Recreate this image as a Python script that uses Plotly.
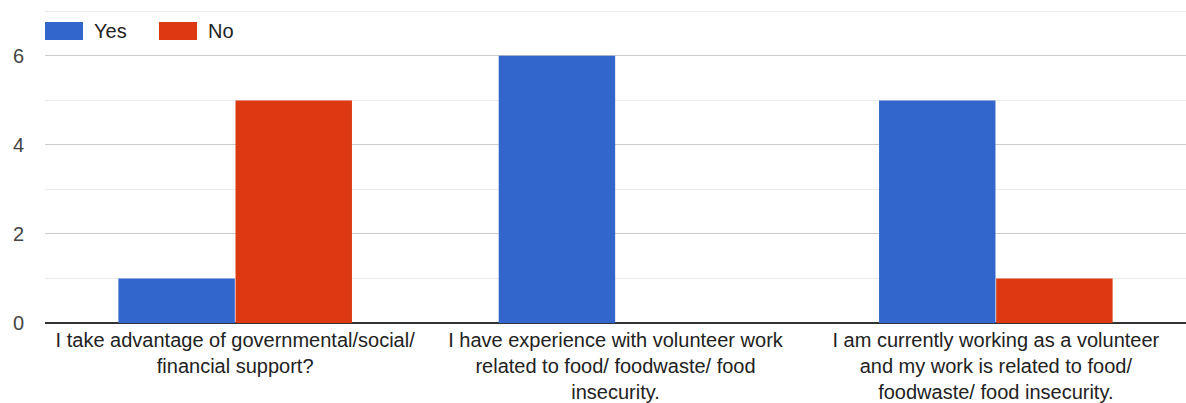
import plotly.graph_objects as go

categories = [
    "I take advantage of governmental/social/<br>financial support?",
    "I have experience with volunteer work<br>related to food/ foodwaste/ food<br>insecurity.",
    "I am currently working as a volunteer<br>and my work is related to food/<br>foodwaste/ food insecurity.",
]
yes_values = [1, 6, 5]
no_values = [5, 0, 1]
series_names = ["Yes", "No"]
colors = ["#3366cc", "#dc3912"]
y_ticks = [0, 2, 4, 6]

fig = go.Figure()
for name, vals, col in zip(series_names, [yes_values, no_values], colors):
    fig.add_trace(go.Bar(
        x=categories, y=vals, name=name,
        marker=dict(color=col, line=dict(width=0)),
        showlegend=False,
    ))

# custom legend (swatches + labels)
plot_w, plot_h = 1141, 313
legend_x = [0.0, 114 / plot_w]
for i, (name, col) in enumerate(zip(series_names, colors)):
    x0 = legend_x[i]
    fig.add_shape(type="rect", xref="paper", yref="paper",
                  x0=x0, x1=x0 + 38 / plot_w, y0=1.0 - (40 - 10) / plot_h, y1=1.0 - (22 - 10) / plot_h,
                  fillcolor=col, line=dict(width=0))
    fig.add_annotation(xref="paper", yref="paper", x=x0 + 47 / plot_w, y=1.0 - (31 - 10) / plot_h,
                       text=name, showarrow=False, xanchor="left", yanchor="middle",
                       font=dict(size=20, color="#222222"))

fig.update_layout(
    width=1186, height=403,
    margin=dict(l=45, r=0, t=10, b=80, autoexpand=False),
    paper_bgcolor="white", plot_bgcolor="white",
    barmode="group", bargap=0.384, bargroupgap=0.006,
    font=dict(family="Arial, Liberation Sans, sans-serif", size=20, color="#222222"),
    xaxis=dict(showgrid=False, showline=False, ticks="", automargin=False, ticklabelstandoff=3,
               tickfont=dict(size=20, color="#222222")),
    yaxis=dict(range=[0, 7.03], tickvals=y_ticks, showgrid=True, gridcolor="#cccccc", gridwidth=1,
               zeroline=True, zerolinecolor="#333333", zerolinewidth=2, automargin=False,
               tickfont=dict(size=20, color="#444444"), ticks="", ticklabelstandoff=20,
               minor=dict(dtick=1, showgrid=True, gridcolor="#ebebeb", gridwidth=1)),
)

fig.write_html(
    "out.html",
    config={"displayModeBar": False},
    post_script="document.body.style.margin='0';document.body.style.overflow='hidden';",
)
